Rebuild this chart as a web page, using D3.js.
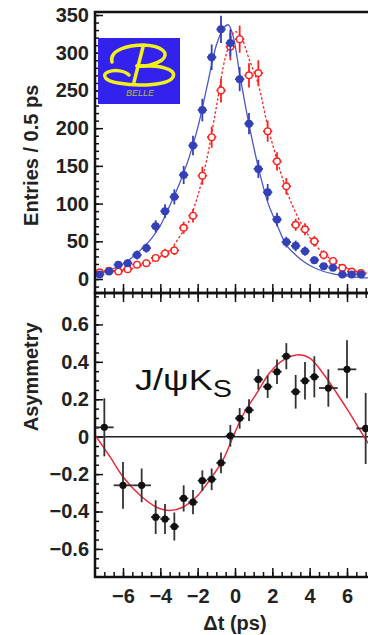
<!DOCTYPE html>
<html>
<head>
<meta charset="utf-8">
<script src="https://cdn.jsdelivr.net/npm/d3@7"></script>
<style>
  body { margin: 0; background: #fff; }
  svg { display: block; }
  text { font-family: "Liberation Sans", Arial, sans-serif; }
</style>
</head>
<body>
<div id="chart"></div>
<script>
// ---- data ----
// top panel: 0.5 ps bins
var binCenters = [-7.25, -6.75, -6.25, -5.75, -5.25, -4.75, -4.25, -3.75, -3.25, -2.75, -2.25, -1.75, -1.25, -0.75, -0.25,
                  0.25, 0.75, 1.25, 1.75, 2.25, 2.75, 3.25, 3.75, 4.25, 4.75, 5.25, 5.75, 6.25, 6.75];
var blueEntries = [6, 10, 19, 21, 32, 41, 70, 90, 109, 138, 177, 224, 294, 331, 313,
                   265, 206, 146, 115, 79, 49, 44, 37, 25, 17, 15, 6, 6, 6];
var blueErrors = [3, 3, 4, 5, 6, 6, 8, 9, 10, 12, 13, 15, 17, 18, 18,
                  16, 14, 12, 11, 9, 7, 7, 6, 5, 4, 4, 3, 3, 3];
var redEntries = [9, 11, 10, 13, 19, 21, 28, 34, 38, 68, 84, 137, 188, 250, 308,
                  318, 270, 273, 196, 156, 123, 72, 66, 50, 32, 24, 15, 10, 8];
var redErrors = [3, 3, 3, 4, 4, 5, 5, 6, 6, 8, 9, 12, 14, 16, 18,
                 18, 16, 17, 14, 12, 11, 8, 8, 7, 6, 5, 4, 3, 3];

// fitted curves
var blueFitT = [-7.5, -7, -6.5, -6, -5.5, -5, -4.5, -4, -3.5, -3, -2.5, -2, -1.5, -1, -0.6, -0.36, -0.1, 0.25, 0.75,
                1.25, 1.75, 2.25, 2.75, 3.25, 3.75, 4.25, 4.75, 5.25, 5.75, 6.25, 6.75, 7.5];
var blueFitN = [7, 10, 14, 20, 29, 40, 53, 71, 97, 125, 158, 200, 255, 310, 333, 337, 322, 272, 205,
                148, 102, 72, 45, 32, 22, 15, 10, 7, 5, 3, 2, 1];
var redFitT = [-7.5, -7, -6.5, -6, -5.5, -5, -4.5, -4, -3.5, -3, -2.5, -2, -1.5, -1, -0.5, 0, 0.3, 0.75,
               1.25, 1.75, 2.25, 2.75, 3.25, 3.75, 4.25, 4.75, 5.25, 5.75, 6.25, 6.75, 7.5];
var redFitN = [9, 10, 11, 12, 14, 18, 23, 30, 38, 55, 75, 110, 160, 228, 295, 328, 322, 292,
               258, 203, 158, 118, 88, 65, 47, 34, 24, 17, 12, 9, 6];

// bottom panel: asymmetry
var asymT = [-7, -6, -5, -4.25, -3.75, -3.25, -2.75, -2.25, -1.75, -1.25, -0.75, -0.25,
             0.25, 0.75, 1.25, 1.75, 2.25, 2.75, 3.25, 3.75, 4.25, 5, 6, 7];
var asymHalfWidth = [0.5, 0.5, 0.5, 0.25, 0.25, 0.25, 0.25, 0.25, 0.25, 0.25, 0.25, 0.25,
                     0.25, 0.25, 0.25, 0.25, 0.25, 0.25, 0.25, 0.25, 0.25, 0.5, 0.5, 0.5];
var asymVal = [0.05, -0.26, -0.26, -0.43, -0.44, -0.48, -0.33, -0.35, -0.235, -0.228, -0.14, 0.005,
               0.098, 0.142, 0.306, 0.267, 0.347, 0.43, 0.24, 0.299, 0.32, 0.26, 0.36, 0.044];
var asymErr = [0.155, 0.125, 0.09, 0.09, 0.08, 0.075, 0.07, 0.065, 0.055, 0.058, 0.055, 0.058,
               0.055, 0.058, 0.055, 0.06, 0.065, 0.07, 0.09, 0.1, 0.11, 0.1, 0.155, 0.19];
var asymFitT = [-7.5, -6.7, -6, -5.1, -4.2, -3.5, -2.8, -2.05, -1.35, -0.65, -0.1, 0.45, 1.15, 1.85,
                2.6, 3.3, 4.0, 4.7, 5.45, 6.15, 6.85, 7.5];
var asymFitA = [0.01, -0.107, -0.214, -0.312, -0.377, -0.395, -0.377, -0.32, -0.23, -0.125, 0.0, 0.12, 0.23, 0.34,
                0.41, 0.437, 0.42, 0.34, 0.232, 0.125, 0.01, -0.09];

var topTicks = [0, 50, 100, 150, 200, 250, 300, 350];
var asymTicks = [-0.6, -0.4, -0.2, 0, 0.2, 0.4, 0.6];
var xTicks = [-6, -4, -2, 0, 2, 4, 6];

// ---- layout ----
var width = 368, height = 635;
var svg = d3.select("#chart").append("svg")
    .attr("width", width)
    .attr("height", height);

var x = d3.scaleLinear().domain([-7.5, 7.5]).range([95, 375]);
var yTop = d3.scaleLinear().domain([-18.5, 354]).range([293, 12]);
var yBot = d3.scaleLinear().domain([-0.75, 0.768]).range([577, 293]);

var blue = "#3340b8", blueLine = "#4a58c8", red = "#ff2020";

// clip paths for the two panels
var defs = svg.append("defs");
defs.append("clipPath").attr("id", "clipTop").append("rect")
    .attr("x", x(-7.5)).attr("y", yTop(354)).attr("width", x(7.5) - x(-7.5)).attr("height", yTop(-18.5) - yTop(354));
defs.append("clipPath").attr("id", "clipBot").append("rect")
    .attr("x", x(-7.5)).attr("y", yBot(0.768)).attr("width", x(7.5) - x(-7.5)).attr("height", yBot(-0.75) - yBot(0.768));

function styleAxis(g) {
    g.select(".domain").remove();
    g.selectAll(".tick line").attr("stroke", "#111").attr("stroke-width", 1.5);
    g.selectAll(".tick text")
        .attr("fill", "#222")
        .style("font-size", "20px")
        .style("font-weight", "bold");
}

// ---- axes, top panel ----
svg.append("g").attr("transform", "translate(" + x(-7.5) + ",0)")
    .call(d3.axisLeft(yTop).tickValues(d3.range(-10, 351, 10)).tickSize(-4).tickFormat(""))
    .call(styleAxis);
svg.append("g").attr("transform", "translate(" + x(-7.5) + ",0)")
    .call(d3.axisLeft(yTop).tickValues(topTicks).tickSize(-8).tickPadding(6))
    .call(styleAxis);
svg.append("g").attr("transform", "translate(0," + yTop(-18.5) + ")")
    .call(d3.axisBottom(x).tickValues(d3.range(-7, 7.6, 0.5)).tickSize(-5).tickFormat(""))
    .call(styleAxis);
svg.append("g").attr("transform", "translate(0," + yTop(-18.5) + ")")
    .call(d3.axisBottom(x).tickValues(xTicks).tickSize(-9).tickFormat(""))
    .call(styleAxis);

// ---- axes, bottom panel ----
svg.append("g").attr("transform", "translate(" + x(-7.5) + ",0)")
    .call(d3.axisLeft(yBot).tickValues(d3.range(-0.7, 0.76, 0.05)).tickSize(-4).tickFormat(""))
    .call(styleAxis);
svg.append("g").attr("transform", "translate(" + x(-7.5) + ",0)")
    .call(d3.axisLeft(yBot).tickValues(asymTicks).tickSize(-8).tickPadding(6).tickFormat(d3.format("")))
    .call(styleAxis);
svg.append("g").attr("transform", "translate(0," + yBot(0.768) + ")")
    .call(d3.axisTop(x).tickValues(d3.range(-7, 7.6, 0.5)).tickSize(-5).tickFormat(""))
    .call(styleAxis);
svg.append("g").attr("transform", "translate(0," + yBot(0.768) + ")")
    .call(d3.axisTop(x).tickValues(xTicks).tickSize(-9).tickFormat(""))
    .call(styleAxis);
svg.append("g").attr("transform", "translate(0," + yBot(-0.75) + ")")
    .call(d3.axisBottom(x).tickValues(d3.range(-7, 7.6, 0.5)).tickSize(-5).tickFormat(""))
    .call(styleAxis);
svg.append("g").attr("transform", "translate(0," + yBot(-0.75) + ")")
    .call(d3.axisBottom(x).tickValues(xTicks).tickSize(-9).tickPadding(12))
    .call(styleAxis);

// ---- logo ----
var logo = svg.append("g").attr("transform", "translate(98,38)");
logo.append("rect").attr("width", 82).attr("height", 66).attr("fill", "#3322ee");
var bStroke = { stroke: "#f2f21a", "stroke-width": 3.5, fill: "none", "stroke-linecap": "round" };
[
    "M14,24 C11,12 30,7 46,7 C64,8 72,15 64,22 C57,27 46,29 39,28",
    "M45,9 L36,44",
    "M39,28 C62,27 79,31 75,39 C71,47 42,49 20,45 C7,43 3,37 10,34 C17,31 27,33 31,37"
].forEach(function (d) {
    var p = logo.append("path").attr("d", d);
    for (var k in bStroke) p.attr(k, bStroke[k]);
});
logo.append("text").attr("x", 42).attr("y", 58)
    .attr("text-anchor", "middle")
    .style("font-size", "9px").style("font-style", "italic")
    .attr("fill", "#b8b84a").text("BELLE");

// ---- top panel marks ----
var topG = svg.append("g").attr("clip-path", "url(#clipTop)");
var curve = d3.line().curve(d3.curveCatmullRom);

topG.append("path")
    .attr("d", curve(blueFitT.map(function (t, i) { return [x(t), yTop(blueFitN[i])]; })))
    .attr("fill", "none").attr("stroke", blueLine).attr("stroke-width", 1.3);
topG.append("path")
    .attr("d", curve(redFitT.map(function (t, i) { return [x(t), yTop(redFitN[i])]; })))
    .attr("fill", "none").attr("stroke", red).attr("stroke-width", 1.3).attr("stroke-dasharray", "2.5,2");

function errorBars(g, xs, ys, errs, hw, sx, sy, color, w) {
    xs.forEach(function (t, i) {
        g.append("line").attr("x1", sx(t)).attr("x2", sx(t))
            .attr("y1", sy(ys[i] - errs[i])).attr("y2", sy(ys[i] + errs[i]))
            .attr("stroke", color).attr("stroke-width", w);
        var h = Array.isArray(hw) ? hw[i] : hw;
        g.append("line").attr("x1", sx(t - h)).attr("x2", sx(t + h))
            .attr("y1", sy(ys[i])).attr("y2", sy(ys[i]))
            .attr("stroke", color).attr("stroke-width", w);
    });
}

errorBars(topG, binCenters, redEntries, redErrors, 0.25, x, yTop, red, 1.8);
topG.selectAll(".red").data(binCenters).enter().append("circle")
    .attr("cx", function (d) { return x(d); })
    .attr("cy", function (d, i) { return yTop(redEntries[i]); })
    .attr("r", 3.3).attr("fill", "#fff").attr("stroke", red).attr("stroke-width", 1.4);

errorBars(topG, binCenters, blueEntries, blueErrors, 0.25, x, yTop, blue, 1.8);
topG.selectAll(".blue").data(binCenters).enter().append("circle")
    .attr("cx", function (d) { return x(d); })
    .attr("cy", function (d, i) { return yTop(blueEntries[i]); })
    .attr("r", 4).attr("fill", blue);

// ---- bottom panel marks ----
var botG = svg.append("g").attr("clip-path", "url(#clipBot)");
botG.append("line").attr("x1", x(-7.5)).attr("x2", x(7.5))
    .attr("y1", yBot(0)).attr("y2", yBot(0))
    .attr("stroke", "#222").attr("stroke-width", 1.5);
botG.append("path")
    .attr("d", curve(asymFitT.map(function (t, i) { return [x(t), yBot(asymFitA[i])]; })))
    .attr("fill", "none").attr("stroke", "#ee2a3a").attr("stroke-width", 1.5);
errorBars(botG, asymT, asymVal, asymErr, asymHalfWidth, x, yBot, "#333", 1.8);
botG.selectAll(".asym").data(asymT).enter().append("circle")
    .attr("cx", function (d) { return x(d); })
    .attr("cy", function (d, i) { return yBot(asymVal[i]); })
    .attr("r", 3.6).attr("fill", "#111");

// ---- frames ----
svg.append("rect").attr("x", x(-7.5)).attr("y", yTop(354))
    .attr("width", x(7.5) - x(-7.5)).attr("height", yTop(-18.5) - yTop(354))
    .attr("fill", "none").attr("stroke", "#111").attr("stroke-width", 2.5);
svg.append("rect").attr("x", x(-7.5)).attr("y", yBot(0.768))
    .attr("width", x(7.5) - x(-7.5)).attr("height", yBot(-0.75) - yBot(0.768))
    .attr("fill", "none").attr("stroke", "#111").attr("stroke-width", 2.5);

// ---- texts ----
svg.append("text")
    .attr("transform", "translate(38," + yTop(164) + ") rotate(-90)")
    .attr("text-anchor", "middle")
    .style("font-size", "20px").style("font-weight", "bold").attr("fill", "#222")
    .text("Entries / 0.5 ps");
svg.append("text")
    .attr("transform", "translate(38," + yBot(0.32) + ") rotate(-90)")
    .attr("text-anchor", "middle")
    .style("font-size", "20px").style("font-weight", "bold").attr("fill", "#222")
    .text("Asymmetry");
svg.append("text")
    .attr("x", x(0)).attr("y", 630)
    .attr("text-anchor", "middle")
    .style("font-size", "20px").style("font-weight", "bold").attr("fill", "#222")
    .text("Δt (ps)");

var jk = svg.append("text").attr("transform", "translate(135,390) scale(1.2,1)")
    .style("font-size", "30px").attr("fill", "#111");
jk.append("tspan").text("J/ψK");
jk.append("tspan").attr("dy", 7).style("font-size", "24px").text("S");
</script>
</body>
</html>
